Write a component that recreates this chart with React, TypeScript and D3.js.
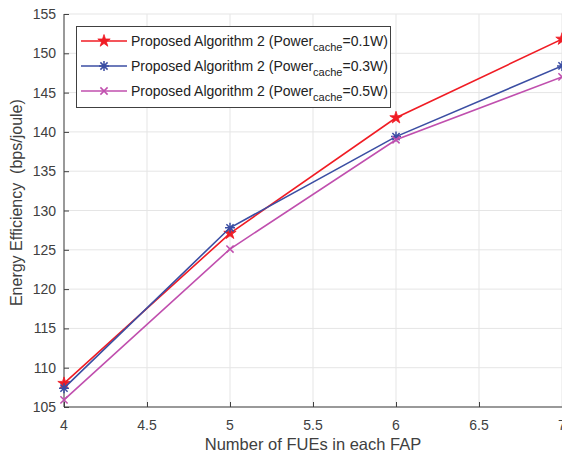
import React, { useEffect, useRef } from 'react';
import * as d3 from 'd3';

// number of FUEs per FAP
const fues = [4, 5, 6, 7];
// energy efficiency (bps/joule) per cache power
const power01 = [108.0, 127.1, 141.8, 151.8];
const power03 = [107.4, 127.8, 139.4, 148.4];
const power05 = [105.9, 125.1, 139.0, 147.0];
const seriesLabels = ['0.1W', '0.3W', '0.5W'];
const xTicks = [4, 4.5, 5, 5.5, 6, 6.5, 7];
const yTicks = [105, 110, 115, 120, 125, 130, 135, 140, 145, 150, 155];

const font = 'Liberation Sans, Arial, Helvetica, sans-serif';
const axisColor = '#404040';

function markerPath(kind: string, r: number) {
  if (kind === 'star') {
    // d3 star outer radius ~ sqrt(size * 0.891)
    return d3.symbol().type(d3.symbolStar).size((r * r) / 0.891)() as string;
  }
  const p = d3.path();
  const s = r * 0.72;
  if (kind === 'asterisk') {
    p.moveTo(-r, 0); p.lineTo(r, 0);
    p.moveTo(0, -r); p.lineTo(0, r);
    p.moveTo(-s, -s); p.lineTo(s, s);
    p.moveTo(-s, s); p.lineTo(s, -s);
  } else {
    p.moveTo(-s, -s); p.lineTo(s, s);
    p.moveTo(-s, s); p.lineTo(s, -s);
  }
  return p.toString();
}

const App = () => {
  const ref = useRef<SVGSVGElement>(null);

  useEffect(() => {
    const width = 562;
    const margins = { top: 14, left: 64 };
    const svg = d3.select(ref.current);
    svg.selectAll('*').remove();

    const xScale = d3.scaleLinear().domain([4, 7]).range([margins.left, margins.left + 498]);
    const yScale = d3.scaleLinear().domain([105, 155]).range([407, margins.top]);

    const root = svg.append('g');

    // grid
    root.selectAll('line.gx').data(xTicks).enter().append('line')
      .attr('x1', d => xScale(d)).attr('x2', d => xScale(d))
      .attr('y1', yScale(105)).attr('y2', yScale(155))
      .attr('stroke', '#e5e5e5').attr('stroke-width', 1);
    root.selectAll('line.gy').data(yTicks).enter().append('line')
      .attr('x1', xScale(4)).attr('x2', width)
      .attr('y1', d => yScale(d)).attr('y2', d => yScale(d))
      .attr('stroke', '#e5e5e5').attr('stroke-width', 1);

    // axes (ticks pointing inward)
    const xAxis = root.append('g')
      .attr('transform', `translate(0, ${yScale(105)})`)
      .call(d3.axisTop(xScale).tickValues(xTicks).tickSize(5));
    xAxis.selectAll('text').remove();
    xAxis.selectAll('line, path').attr('stroke', axisColor);
    xAxis.select('path').attr('d', `M${xScale(4)},0H${width}`);

    const yAxis = root.append('g')
      .attr('transform', `translate(${xScale(4)}, 0)`)
      .call(d3.axisRight(yScale).tickValues(yTicks).tickSize(5));
    yAxis.selectAll('text').remove();
    yAxis.selectAll('line, path').attr('stroke', axisColor);
    yAxis.select('path').attr('d', `M0,${yScale(155)}V${yScale(105)}`);

    // tick labels
    root.selectAll('text.xt').data(xTicks).enter().append('text')
      .attr('x', d => xScale(d)).attr('y', 430)
      .attr('text-anchor', 'middle')
      .style('font-family', font).style('font-size', '14px').attr('fill', axisColor)
      .text(d => String(d));
    root.selectAll('text.yt').data(yTicks).enter().append('text')
      .attr('x', 56).attr('y', d => yScale(d) + 5)
      .attr('text-anchor', 'end')
      .style('font-family', font).style('font-size', '14px').attr('fill', axisColor)
      .text(d => String(d));

    // axis titles
    root.append('text')
      .attr('x', 313).attr('y', 450).attr('text-anchor', 'middle')
      .style('font-family', font).style('font-size', '16.5px').attr('fill', axisColor)
      .text('Number of FUEs in each FAP');
    root.append('text')
      .attr('transform', `translate(22, ${yScale(131)}) rotate(-90)`)
      .attr('text-anchor', 'middle')
      .style('font-family', font).style('font-size', '16px').attr('fill', axisColor)
      .attr('xml:space', 'preserve')
      .text('Energy Efficiency  (bps/joule)');

    const series = [
      { values: power01, color: '#f01c24', marker: 'star' },
      { values: power03, color: '#3b4ea3', marker: 'asterisk' },
      { values: power05, color: '#c04fae', marker: 'x' },
    ];

    const line = d3.line<number>()
      .x((_, i) => xScale(fues[i]))
      .y(d => yScale(d));

    const drawMarker = (g: any, kind: string, color: string) =>
      g.attr('d', markerPath(kind, kind === 'star' ? 6.5 : 5))
        .attr('fill', kind === 'star' ? color : 'none')
        .attr('stroke', color).attr('stroke-width', kind === 'star' ? 0.8 : 1.5);

    series.forEach(s => {
      root.append('path')
        .attr('d', line(s.values))
        .attr('fill', 'none').attr('stroke', s.color).attr('stroke-width', 1.6);
      drawMarker(
        root.selectAll(null).data(s.values).enter().append('path')
          .attr('transform', (d: number, i: number) => `translate(${xScale(fues[i])}, ${yScale(d)})`),
        s.marker, s.color);
    });

    // legend
    const legend = root.append('g');
    legend.append('rect')
      .attr('x', 76.5).attr('y', 26.5).attr('width', 314).attr('height', 81)
      .attr('fill', '#fff').attr('stroke', axisColor).attr('stroke-width', 1);
    series.forEach((s, i) => {
      const y = 41 + i * 25;
      legend.append('line')
        .attr('x1', 81).attr('x2', 127).attr('y1', y).attr('y2', y)
        .attr('stroke', s.color).attr('stroke-width', 1.6);
      drawMarker(legend.append('path').attr('transform', `translate(104, ${y})`), s.marker, s.color);
      const t = legend.append('text')
        .attr('x', 131).attr('y', y + 5)
        .style('font-family', font).style('font-size', '14px').attr('fill', '#222');
      t.append('tspan').text('Proposed Algorithm 2 (Power');
      t.append('tspan').attr('dy', 5).style('font-size', '11px').text('cache');
      t.append('tspan').attr('dy', -5).text(`=${seriesLabels[i]})`);
    });
  }, []);

  return (
    <svg ref={ref} width={562} height={457}
      style={{ position: 'absolute', left: 0, top: 0, background: '#fff' }} />
  );
};

export default App;
